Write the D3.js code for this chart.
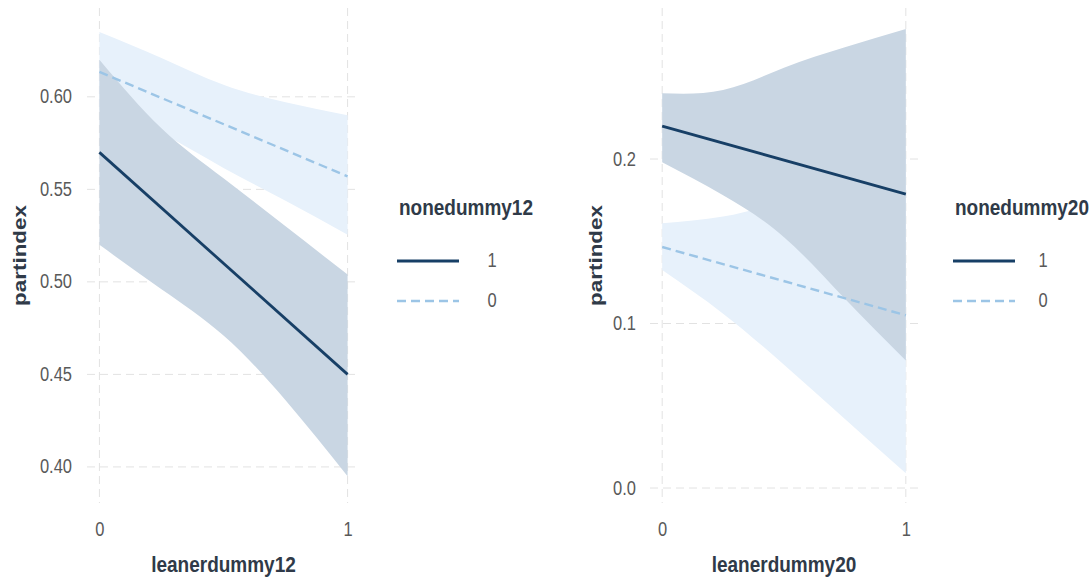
<!DOCTYPE html>
<html>
<head>
<meta charset="utf-8">
<script src="https://cdn.jsdelivr.net/npm/d3@7"></script>
<style>
    body { margin: 0; background: #fff; }
    svg { display: block; font-family: "Liberation Sans", Arial, sans-serif; }
</style>
</head>
<body>
<div id="chart"></div>
<script>
const bandX = [0, 0.25, 0.5, 0.75, 1];
const xTicks = [0, 1];
const legendLevels = ["1", "0"];

// panel 1: leanerdummy12 / nonedummy12
const fit12one = [0.570, 0.450];
const fit12zero = [0.6135, 0.557];
const upper12one = [0.620, 0.583, 0.556, 0.530, 0.504];
const lower12one = [0.520, 0.496, 0.471, 0.436, 0.395];
const upper12zero = [0.635, 0.621, 0.6065, 0.597, 0.590];
const lower12zero = [0.593, 0.580, 0.5616, 0.5438, 0.5254];
const yTicks12 = [0.40, 0.45, 0.50, 0.55, 0.60];

// panel 2: leanerdummy20 / nonedummy20
const fit20one = [0.220, 0.1787];
const fit20zero = [0.1465, 0.105];
const upper20one = [0.240, 0.242, 0.2555, 0.268, 0.279];
const lower20one = [0.198, 0.178, 0.1525, 0.115, 0.0775];
const upper20zero = [0.161, 0.165, 0.175, 0.189, 0.202];
const lower20zero = [0.1325, 0.106, 0.075, 0.042, 0.009];
const yTicks20 = [0.0, 0.1, 0.2];

const Chart = (function(d3) {
    const svgWidth = 1091,
        svgHeight = 581;
    const darkLine = "#173f66",
        lightLine = "#9cc5e6",
        darkBand = "#c9d6e3",
        lightBand = "#e7f1fb",
        gridColor = "#e2e2e2",
        titleColor = "#2f3a48",
        tickColor = "#595959";
    const stretch = 1.18;

    const svg = d3.select("#chart")
        .append("svg")
        .attr("width", svgWidth)
        .attr("height", svgHeight);

    const panels = [
        {
            left: 87, right: 360, top: 8, bottom: 503,
            yDomain: [0.3805, 0.648], yTicks: yTicks12, fmt: ".2f",
            fitOne: fit12one, fitZero: fit12zero,
            upOne: upper12one, lowOne: lower12one,
            upZero: upper12zero, lowZero: lower12zero,
            xTitle: "leanerdummy12", yTitleX: 19, tickEnd: 72,
            legendTitle: "nonedummy12", legendX: 397, labelX: 492
        },
        {
            left: 650, right: 918, top: 8, bottom: 503,
            yDomain: [-0.0091, 0.2918], yTicks: yTicks20, fmt: ".1f",
            fitOne: fit20one, fitZero: fit20zero,
            upOne: upper20one, lowOne: lower20one,
            upZero: upper20zero, lowZero: lower20zero,
            xTitle: "leanerdummy20", yTitleX: 595, tickEnd: 636,
            legendTitle: "nonedummy20", legendX: 953, labelX: 1043
        }
    ];

    // text drawn slightly taller than wide, like the source image
    function stretchedText(g, x, y, str, rotate) {
        const t = g.append("text")
            .attr("transform", rotate
                ? `translate(${x},${y}) rotate(-90) scale(${stretch},1)`
                : `translate(${x},${y}) scale(1,${stretch})`)
            .text(str);
        return t;
    }

    function drawPanel(p) {
        const x = d3.scaleLinear()
            .domain([-0.05, 1.05])
            .range([p.left, p.right]);
        const y = d3.scaleLinear()
            .domain(p.yDomain)
            .range([p.bottom, p.top]);

        const g = svg.append("g");

        // grid
        g.append("g")
            .selectAll("line")
            .data(p.yTicks)
            .join("line")
            .attr("x1", p.left).attr("x2", p.right)
            .attr("y1", function(d) { return y(d) })
            .attr("y2", function(d) { return y(d) })
            .attr("stroke", gridColor)
            .attr("stroke-dasharray", "8,5");
        g.append("g")
            .selectAll("line")
            .data(xTicks)
            .join("line")
            .attr("y1", p.top).attr("y2", p.bottom)
            .attr("x1", function(d) { return x(d) })
            .attr("x2", function(d) { return x(d) })
            .attr("stroke", gridColor)
            .attr("stroke-dasharray", "8,5");

        // bands
        const band = d3.area()
            .curve(d3.curveNatural)
            .x(function(d) { return x(d.x) })
            .y0(function(d) { return y(d.lo) })
            .y1(function(d) { return y(d.hi) });

        const zeroBand = bandX.map(function(v, i) { return { x: v, lo: p.lowZero[i], hi: p.upZero[i] } });
        const oneBand = bandX.map(function(v, i) { return { x: v, lo: p.lowOne[i], hi: p.upOne[i] } });

        g.append("path").datum(zeroBand).attr("d", band).attr("fill", lightBand);
        g.append("path").datum(oneBand).attr("d", band).attr("fill", darkBand);

        // fitted lines
        const line = d3.line()
            .x(function(d) { return x(d.x) })
            .y(function(d) { return y(d.v) });

        g.append("path")
            .datum(xTicks.map(function(v, i) { return { x: v, v: p.fitZero[i] } }))
            .attr("d", line)
            .attr("fill", "none")
            .attr("stroke", lightLine)
            .attr("stroke-width", 2.4)
            .attr("stroke-dasharray", "9,5");
        g.append("path")
            .datum(xTicks.map(function(v, i) { return { x: v, v: p.fitOne[i] } }))
            .attr("d", line)
            .attr("fill", "none")
            .attr("stroke", darkLine)
            .attr("stroke-width", 2.8);

        // axes (labels only)
        const yAxis = d3.axisLeft(y)
            .tickValues(p.yTicks)
            .tickFormat(d3.format(p.fmt))
            .tickSize(0);
        const yg = g.append("g")
            .attr("transform", `translate(${p.tickEnd},0)`)
            .call(yAxis);
        yg.select(".domain").remove();
        yg.selectAll("text")
            .attr("x", 0)
            .attr("dy", null)
            .attr("y", 0)
            .attr("transform", `translate(0,6) scale(1,${stretch})`)
            .attr("fill", tickColor)
            .style("font-size", "16.5px")
            .style("font-family", "'Liberation Sans', Arial, sans-serif");

        const xAxis = d3.axisBottom(x)
            .tickValues(xTicks)
            .tickFormat(d3.format("d"))
            .tickSize(0);
        const xg = g.append("g")
            .attr("transform", `translate(0,${p.bottom + 33})`)
            .call(xAxis);
        xg.select(".domain").remove();
        xg.selectAll("text")
            .attr("dy", null)
            .attr("y", 0)
            .attr("transform", `scale(1,${stretch})`)
            .attr("fill", tickColor)
            .style("font-size", "16.5px")
            .style("font-family", "'Liberation Sans', Arial, sans-serif");

        // titles
        const titles = g.append("g")
            .attr("fill", titleColor)
            .style("font-weight", "bold")
            .style("font-size", "19px");
        stretchedText(titles, (p.left + p.right) / 2, 572, p.xTitle)
            .attr("text-anchor", "middle");
        stretchedText(titles, p.yTitleX + 7, (p.top + p.bottom) / 2, "partindex", true)
            .attr("text-anchor", "middle");
        stretchedText(titles, p.legendX + 2, 215, p.legendTitle);

        // legend
        const keys = g.append("g")
            .selectAll("g")
            .data(legendLevels)
            .join("g")
            .attr("transform", function(d, i) { return `translate(0,${261 + i * 40})` });
        keys.append("line")
            .attr("x1", p.legendX)
            .attr("x2", p.legendX + 62)
            .attr("stroke", function(d) { return d === "1" ? darkLine : lightLine })
            .attr("stroke-width", function(d) { return d === "1" ? 2.8 : 2.4 })
            .attr("stroke-dasharray", function(d) { return d === "1" ? null : "9,5" });
        keys.each(function(d) {
            stretchedText(d3.select(this), p.labelX, 6, d)
                .attr("text-anchor", "middle")
                .attr("fill", tickColor)
                .style("font-size", "16.5px");
        });
    }

    panels.forEach(drawPanel);

    return { panels: panels };
})(d3);
</script>
</body>
</html>
